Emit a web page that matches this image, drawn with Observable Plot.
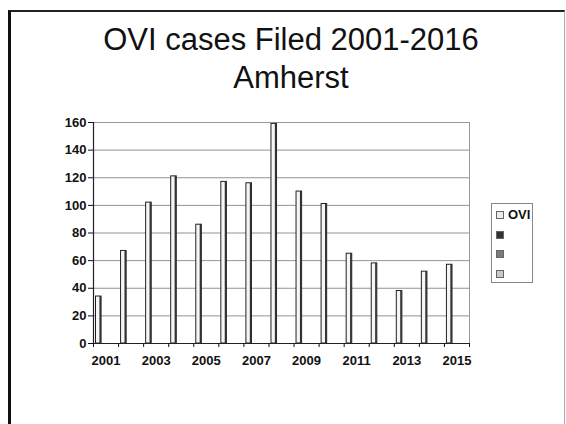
<!DOCTYPE html>
<html><head><meta charset="utf-8">
<script src="https://cdn.jsdelivr.net/npm/d3@7"></script>
<script src="https://cdn.jsdelivr.net/npm/@observablehq/plot@0.6"></script>
<style>
body{margin:0;background:#fff;font-family:"Liberation Sans",Arial,sans-serif;}
#fig{position:relative;width:566px;height:424px;overflow:hidden;background:#fff}
#frame{position:absolute;left:8px;top:10px;width:553px;height:430px;border-left:3px solid #111;border-top:2px solid #222;border-right:1px solid #aaa;}
#title{position:absolute;left:16px;width:550px;top:21px;text-align:center;font-size:31px;line-height:38px;color:#111}
#chart{position:absolute;left:0;top:0}
#chart svg text{font-weight:bold}
#legend{position:absolute;left:491px;top:203px;width:40px;height:78px;border:1px solid #888;background:#fff}
.row{position:absolute;left:4px;height:14px;font-size:13px;font-weight:bold;line-height:14px;color:#111}
.sw{position:absolute;left:0;top:3px;width:6px;height:6px;border:1px solid #666}
.lab{position:absolute;left:12px;top:0}
</style></head><body>
<div id="fig">
  <div id="frame"></div>
  <div id="title"></div>
  <div id="chart"></div>
  <div id="legend"></div>
</div>
<script>
const titleLines = ["OVI cases Filed 2001-2016", "Amherst"];
const years = [2001,2002,2003,2004,2005,2006,2007,2008,2009,2010,2011,2012,2013,2014,2015];
const ovi = [34,67,102,121,86,117,116,159,110,101,65,58,38,52,57];
const seriesNames = ["OVI", "", "", ""];
const seriesColors = ["#ececec", "#333333", "#7a7a7a", "#c8c8c8"];
const yTicks = [0,20,40,60,80,100,120,140,160];
const xLabelYears = [2001,2003,2005,2007,2009,2011,2013,2015];

document.getElementById("title").innerHTML = titleLines.map(t => `<div>${t}</div>`).join("");

const data = years.map((y, i) => ({year: y, value: ovi[i]}));
const boundaries = years.concat([years[years.length - 1] + 1]);

const chart = Plot.plot({
  width: 566,
  height: 424,
  marginLeft: 93,
  marginRight: 97,
  marginTop: 122,
  marginBottom: 81,
  style: {fontFamily: "'Liberation Sans', Arial, sans-serif", fontSize: "13px", color: "#111", background: "transparent"},
  x: {type: "linear", domain: [boundaries[0], boundaries[boundaries.length - 1]], label: null},
  y: {domain: [0, 160], label: null},
  marks: [
    Plot.gridY(yTicks, {stroke: "#777", strokeOpacity: 1, strokeWidth: 0.8}),
    Plot.frame({stroke: "#999"}),
    Plot.rectY(data, {x: "year", interval: 1, y: "value", insetLeft: 2.5, insetRight: 17, fill: "#f6f6f6", stroke: "#222", strokeWidth: 1}),
    Plot.rectY(data, {x: "year", interval: 1, y: "value", insetLeft: 6.4, insetRight: 17, fill: "#333"}),
    Plot.ruleY([0], {stroke: "#222", strokeWidth: 1.2}),
    Plot.ruleX([boundaries[0]], {stroke: "#222", strokeWidth: 1.2}),
    Plot.axisY({ticks: yTicks, tickSize: 5, tickPadding: 2, label: null, fontSize: 13}),
    Plot.axisX({ticks: boundaries, tickFormat: () => "", tickSize: 4, label: null}),
    Plot.axisX({ticks: xLabelYears.map(y => y + 0.5), tickFormat: d => String(d - 0.5), tickSize: 0, tickPadding: 12, label: null, fontSize: 13})
  ]
});
document.getElementById("chart").appendChild(chart);

const legend = document.getElementById("legend");
seriesNames.forEach((name, i) => {
  const row = document.createElement("div");
  row.className = "row";
  row.style.top = (4 + i * 19.5) + "px";
  row.innerHTML = `<div class="sw" style="background:${seriesColors[i]}"></div><div class="lab">${name}</div>`;
  legend.appendChild(row);
});
</script>
</body></html>
